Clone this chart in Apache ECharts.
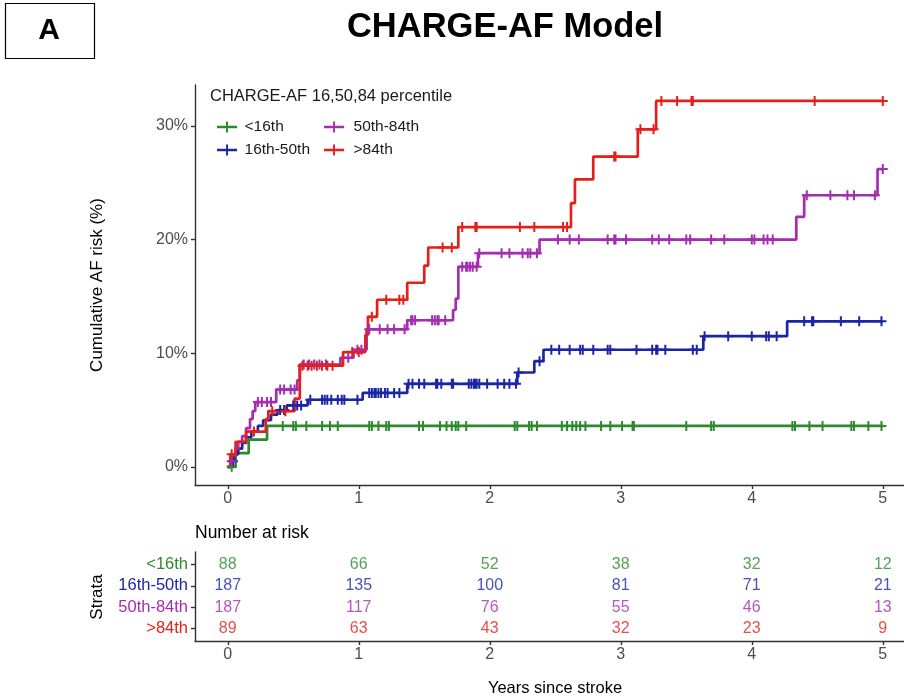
<!DOCTYPE html>
<html>
<head>
<meta charset="utf-8">
<title>CHARGE-AF Model</title>
<script src="https://cdn.jsdelivr.net/npm/echarts@6/dist/echarts.min.js"></script>
<style>
  html, body { margin: 0; padding: 0; background: #ffffff; }
  #chart { width: 904px; height: 700px; }
</style>
</head>
<body>
<div id="chart"></div>
<script>
// ---- data -------------------------------------------------------------
const strata = ['<16th', '16th-50th', '50th-84th', '>84th'];
const yearTicks = [0, 1, 2, 3, 4, 5];
const riskTicks = [0, 10, 20, 30];
const followUpEnd = 5;

// Kaplan-Meier steps: [years since stroke, cumulative AF risk %]
const stepsLow = [[0, 0], [0.06, 1.2], [0.16, 2.4], [0.30, 3.6]];
const stepsMidLow = [[0, 0], [0.02, 0.5], [0.05, 1.1], [0.08, 1.6], [0.11, 2.1], [0.14, 2.6], [0.18, 3.1],
  [0.23, 3.6], [0.27, 4.1], [0.33, 4.6], [0.38, 5.0], [0.45, 5.4], [0.61, 5.9], [1.03, 6.5], [1.37, 7.3],
  [2.21, 8.3], [2.34, 9.3], [2.41, 10.3], [3.63, 11.5], [4.27, 12.8]];
const stepsMidHigh = [[0, 0], [0.02, 0.5], [0.04, 1.0], [0.06, 1.6], [0.08, 2.2], [0.11, 2.7], [0.14, 3.4],
  [0.17, 4.2], [0.19, 4.9], [0.21, 5.7], [0.37, 6.8], [0.53, 7.6], [0.55, 9.0], [0.86, 9.6], [0.96, 10.3],
  [1.06, 12.1], [1.37, 12.9], [1.72, 13.8], [1.74, 14.8], [1.76, 17.6], [1.91, 18.8], [2.38, 20.0],
  [4.34, 22.0], [4.40, 23.9], [4.96, 26.2]];
const stepsHigh = [[0, 0], [0.02, 1.1], [0.06, 2.2], [0.14, 3.1], [0.29, 4.2], [0.31, 4.9], [0.51, 6.0],
  [0.55, 8.9], [0.88, 10.1], [1.05, 11.6], [1.07, 13.2], [1.14, 14.7], [1.37, 16.2], [1.50, 17.7],
  [1.53, 19.3], [1.76, 21.1], [2.62, 23.2], [2.65, 25.3], [2.79, 27.3], [3.13, 29.7], [3.27, 32.2]];

// censoring times (years)
const censorLow = [0.03, 0.42, 0.50, 0.52, 0.60, 0.72, 0.78, 0.84, 1.08, 1.10, 1.15, 1.21, 1.23, 1.46, 1.49,
  1.62, 1.67, 1.71, 1.74, 1.76, 1.82, 2.19, 2.21, 2.30, 2.32, 2.36, 2.55, 2.59, 2.63, 2.66, 2.69, 2.73,
  2.85, 2.92, 3.01, 3.09, 3.10, 3.50, 3.69, 3.71, 4.31, 4.33, 4.44, 4.54, 4.76, 4.78, 4.89, 4.99];
const censorMidLow = [0.04, 0.40, 0.43, 0.50, 0.53, 0.56, 0.63, 0.72, 0.74, 0.76, 0.79, 0.84, 0.87, 0.89,
  0.99, 1.08, 1.10, 1.12, 1.13, 1.15, 1.17, 1.20, 1.22, 1.27, 1.31, 1.38, 1.41, 1.46, 1.50, 1.59, 1.60,
  1.63, 1.71, 1.72, 1.84, 1.86, 1.88, 1.89, 1.90, 1.92, 1.98, 2.06, 2.11, 2.15, 2.20, 2.22, 2.38, 2.47,
  2.53, 2.61, 2.69, 2.71, 2.79, 2.90, 2.92, 3.12, 3.24, 3.27, 3.28, 3.34, 3.55, 3.58, 3.64, 3.82, 4.00,
  4.11, 4.13, 4.19, 4.40, 4.46, 4.47, 4.68, 4.82, 4.99];
const censorMidHigh = [0.03, 0.23, 0.26, 0.30, 0.33, 0.40, 0.43, 0.48, 0.51, 0.58, 0.62, 0.66, 0.70, 0.75,
  0.92, 0.99, 1.02, 1.08, 1.16, 1.22, 1.27, 1.35, 1.40, 1.41, 1.43, 1.56, 1.58, 1.60, 1.61, 1.66, 1.79,
  1.82, 1.83, 1.85, 1.87, 1.90, 1.92, 2.09, 2.15, 2.25, 2.29, 2.31, 2.36, 2.52, 2.61, 2.68, 2.90, 2.95,
  2.96, 3.04, 3.24, 3.29, 3.37, 3.50, 3.53, 3.69, 3.79, 4.00, 4.02, 4.09, 4.12, 4.16, 4.42, 4.60, 4.73,
  4.78, 4.94, 5.00];
const censorHigh = [0.03, 0.20, 0.34, 0.44, 0.57, 0.61, 0.64, 0.68, 0.72, 0.76, 0.80, 0.95, 1.00, 1.10,
  1.21, 1.31, 1.34, 1.64, 1.71, 1.79, 1.89, 1.90, 2.23, 2.34, 2.56, 2.59, 2.95, 2.96, 3.15, 3.25, 3.31,
  3.43, 3.54, 3.55, 4.48, 5.00];

// number at risk at each year
const atRiskTimes = [0, 1, 2, 3, 4, 5];
const atRiskLow = [88, 66, 52, 38, 32, 12];
const atRiskMidLow = [187, 135, 100, 81, 71, 21];
const atRiskMidHigh = [187, 117, 76, 55, 46, 13];
const atRiskHigh = [89, 63, 43, 32, 23, 9];
// table row of each stratum (top row = 4)
const tableRows = [4, 3, 2, 1];

// ---- styling ------------------------------------------------------------
const FONT = '"Liberation Sans", Arial, sans-serif';
const palette = ['#2b8a2b', '#1c26a4', '#a42db0', '#e3211a'];
const crossPath = 'path://M4,0H6V4H10V6H6V10H4V6H0V4H4Z';
const legendIcon = 'path://M0,4.5H21V7H0ZM9.5,0H11.5V11.5H9.5Z';

const allSteps = [stepsLow, stepsMidLow, stepsMidHigh, stepsHigh];
const allCensor = [censorLow, censorMidLow, censorMidHigh, censorHigh];
const allAtRisk = [atRiskLow, atRiskMidLow, atRiskMidHigh, atRiskHigh];

// value of a step curve at time t
function valueAt(steps, t) {
  let v = steps[0][1];
  for (const s of steps) { if (s[0] <= t) v = s[1]; else break; }
  return v;
}

const series = [];
strata.forEach((name, i) => {
  const steps = allSteps[i];
  series.push({
    name: name,
    type: 'line',
    step: 'end',
    xAxisIndex: 0, yAxisIndex: 0,
    color: palette[i],
    showSymbol: false,
    symbol: 'none',
    lineStyle: { width: 2.7, color: palette[i] },
    z: 2 + i * 0.01,
    silent: true,
    data: steps.concat([[followUpEnd, steps[steps.length - 1][1]]])
  });
});
strata.forEach((name, i) => {
  series.push({
    name: name + ' censored',
    type: 'scatter',
    xAxisIndex: 0, yAxisIndex: 0,
    symbol: crossPath,
    symbolSize: 10,
    itemStyle: { color: palette[i], opacity: 1 },
    z: 3 + i * 0.01,
    silent: true,
    data: allCensor[i].map(t => [t, valueAt(allSteps[i], t)])
  });
});
strata.forEach((name, i) => {
  series.push({
    name: name + ' at risk',
    type: 'scatter',
    xAxisIndex: 1, yAxisIndex: 1,
    symbolSize: 1,
    itemStyle: { color: 'rgba(0,0,0,0)' },
    silent: true,
    label: {
      show: true,
      position: 'inside',
      formatter: p => String(p.value[2]),
      color: palette[i],
      fontFamily: FONT,
      fontSize: 16
    },
    data: atRiskTimes.map((t, j) => [t, tableRows[i], allAtRisk[i][j]])
  });
});

// the time axis runs past the right edge of the page, as in the printed figure
const X_MIN = -0.25, X_MAX = 5.162;
const axisLineStyle = { color: '#333333', width: 1.4 };
function xAxisFor(gridIndex) {
  return {
    gridIndex: gridIndex,
    type: 'value',
    min: X_MIN, max: X_MAX,
    axisLine: { show: true, onZero: false, lineStyle: axisLineStyle },
    axisTick: { show: true, customValues: yearTicks, length: 4, lineStyle: axisLineStyle },
    axisLabel: { customValues: yearTicks, color: '#4d4d4d', fontFamily: FONT, fontSize: 16, margin: 6 },
    splitLine: { show: false }
  };
}

const richRows = {};
strata.forEach((n, i) => { richRows['s' + i] = { color: palette[i], fontFamily: FONT, fontSize: 16.5 }; });

const option = {
  animation: false,
  backgroundColor: '#ffffff',
  textStyle: { fontFamily: FONT },
  grid: [
    { left: 195, top: 85, right: 0, height: 400 },
    { left: 195, top: 552, right: 0, height: 89 }
  ],
  xAxis: [xAxisFor(0), xAxisFor(1)],
  yAxis: [
    {
      gridIndex: 0,
      type: 'value',
      min: -1.6, max: 33.6,
      axisLine: { show: true, onZero: false, lineStyle: axisLineStyle },
      axisTick: { show: true, customValues: riskTicks, length: 4, lineStyle: axisLineStyle },
      axisLabel: { customValues: riskTicks, formatter: '{value}%', color: '#4d4d4d', fontFamily: FONT, fontSize: 16, margin: 7 },
      splitLine: { show: false }
    },
    {
      gridIndex: 1,
      type: 'value',
      min: 0.4, max: 4.6,
      axisLine: { show: true, onZero: false, lineStyle: axisLineStyle },
      axisTick: { show: true, customValues: tableRows, length: 4, lineStyle: axisLineStyle },
      axisLabel: {
        customValues: tableRows,
        margin: 7,
        formatter: v => {
          const i = tableRows.indexOf(Number(v));
          return i < 0 ? '' : '{s' + i + '|' + strata[i] + '}';
        },
        rich: richRows
      },
      splitLine: { show: false }
    }
  ],
  legend: [
    {
      orient: 'vertical',
      left: 212, top: 114,
      itemWidth: 21, itemHeight: 11, itemGap: 7,
      selectedMode: false,
      textStyle: { fontFamily: FONT, fontSize: 15.5, color: '#1a1a1a', padding: [0, 0, 0, 2] },
      data: [{ name: strata[0], icon: legendIcon }, { name: strata[1], icon: legendIcon }]
    },
    {
      orient: 'vertical',
      left: 319, top: 114,
      itemWidth: 21, itemHeight: 11, itemGap: 7,
      selectedMode: false,
      textStyle: { fontFamily: FONT, fontSize: 15.5, color: '#1a1a1a', padding: [0, 0, 0, 4] },
      data: [{ name: strata[2], icon: legendIcon }, { name: strata[3], icon: legendIcon }]
    }
  ],
  graphic: [
    { type: 'rect', shape: { x: 5.5, y: 3.5, width: 89, height: 55 }, style: { fill: 'none', stroke: '#000', lineWidth: 1.2 } },
    { type: 'text', x: 49, y: 31, style: { text: 'A', font: 'bold 30px ' + FONT, fill: '#000', textAlign: 'center', textVerticalAlign: 'middle' } },
    { type: 'text', x: 505, y: 27, style: { text: 'CHARGE-AF Model', font: 'bold 34.5px ' + FONT, fill: '#000', textAlign: 'center', textVerticalAlign: 'middle' } },
    { type: 'text', x: 210, y: 96, style: { text: 'CHARGE-AF 16,50,84 percentile', font: '16.5px ' + FONT, fill: '#1a1a1a', textAlign: 'left', textVerticalAlign: 'middle' } },
    { type: 'text', x: 97, y: 285, rotation: Math.PI / 2, style: { text: 'Cumulative AF risk (%)', font: '17px ' + FONT, fill: '#000', textAlign: 'center', textVerticalAlign: 'middle' } },
    { type: 'text', x: 195, y: 533, style: { text: 'Number at risk', font: '17.5px ' + FONT, fill: '#000', textAlign: 'left', textVerticalAlign: 'middle' } },
    { type: 'text', x: 97, y: 597, rotation: Math.PI / 2, style: { text: 'Strata', font: '17px ' + FONT, fill: '#000', textAlign: 'center', textVerticalAlign: 'middle' } },
    { type: 'text', x: 555, y: 688, style: { text: 'Years since stroke', font: '16.5px ' + FONT, fill: '#000', textAlign: 'center', textVerticalAlign: 'middle' } }
  ],
  series: series
};

const chart = echarts.init(document.getElementById('chart'), null, { renderer: 'canvas' });
chart.setOption(option);
</script>
</body>
</html>
